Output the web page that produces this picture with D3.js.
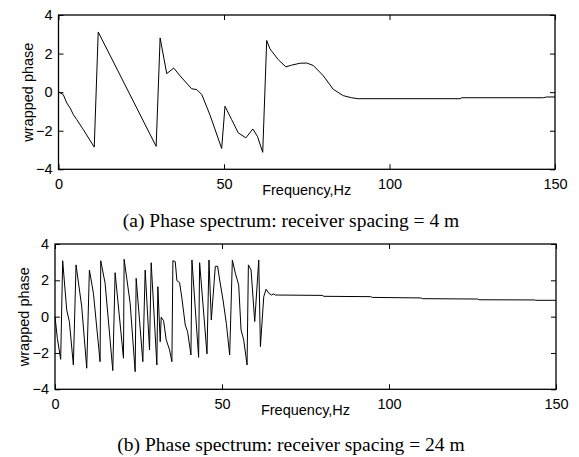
<!DOCTYPE html>
<html>
<head>
<meta charset="utf-8">
<script src="https://cdn.jsdelivr.net/npm/d3@7"></script>
<style>
  html, body { margin: 0; padding: 0; background: #fff; }
  svg { display: block; }
</style>
</head>
<body>
<svg id="chart" width="579" height="457"></svg>
<script>
// ---------- data ----------
const xTicks = [0, 50, 100, 150];
const yTicks = [-4, -2, 0, 2, 4];
const xLabel = "Frequency,Hz";
const yLabel = "wrapped phase";
const captionA = "(a) Phase spectrum: receiver spacing = 4 m";
const captionB = "(b) Phase spectrum: receiver spacing = 24 m";

// (a) receiver spacing = 4 m
const freqA  = [0, 1.45, 2.5, 3.5, 4.5, 5.5, 7.5, 10.8, 12, 29.5, 30.7, 32.7, 34.8, 36.7, 40.2, 41.8, 43.3, 45.8, 49.3, 50.3, 52.3, 54.3, 56.6, 58.7, 60.1, 61.7, 62.9, 63.9, 66.4, 68.7, 70.4, 73, 75, 77, 80, 83, 86, 88.5, 90.6, 121.3, 121.8, 146.5, 147.5, 150];
const phaseA = [0.02, -0.13, -0.56, -0.82, -1.17, -1.42, -1.94, -2.85, 3.12, -2.81, 2.81, 0.96, 1.25, 0.85, 0.18, 0.13, -0.13, -1.2, -2.92, -0.73, -1.42, -2.11, -2.37, -1.91, -2.29, -3.12, 2.68, 2.24, 1.68, 1.31, 1.40, 1.50, 1.51, 1.38, 0.85, 0.15, -0.18, -0.29, -0.34, -0.34, -0.29, -0.29, -0.25, -0.25];

// (b) receiver spacing = 24 m
const freqB  = [0, 0.7, 1.7, 2.3, 3.5, 4.3, 5.5, 6.3, 8, 9.5, 10.3, 11.5, 13.5, 13.7, 15, 17.3, 18, 20.5, 20.7, 22.5, 24, 24.3, 26.3, 27, 28.3, 28.8, 30.5, 30.8, 31.5, 31.8, 32.5, 33.3, 34.3, 35, 35.3, 36, 36.5, 37.3, 38, 39, 39.7, 40.7, 41, 43, 43.3, 45.5, 46.1, 46.8, 48, 48.7, 49.3, 50.3, 51.3, 52.3, 53.1, 54, 55, 55.7, 56.5, 57.5, 57.9, 58.7, 59.8, 61, 61.5, 62.5, 63.2, 64, 64.8, 65.5, 66, 67, 80, 80.5, 94.5, 95, 109.5, 110, 126.5, 127, 143.5, 144, 150];
const phaseB = [0, -1.19, -2.35, 3.08, 0.37, -0.27, -2.66, 2.85, 0.55, -2.84, 2.57, 1.29, -2.48, 3.08, 1.84, -2.97, 2.42, -2.29, 3.16, 0.74, -3.03, 2.11, -2.48, 2.57, -1.83, 2.97, -2.66, 1.65, -1.38, -0.03, -0.22, -1.28, -1.83, -2.48, 3.08, 3.03, 1.98, 1.87, 1.01, -0.46, -0.83, -2.11, 3.12, -2.24, 2.97, -2.05, 3.12, -0.18, 2.77, 2.77, 2.02, 0.92, -0.37, -2.11, 3.12, 2.39, 1.74, -0.73, -1.28, -2.66, 2.85, 2.57, -0.27, 3.12, -1.65, 1.1, 1.51, 1.29, 1.19, 1.25, 1.19, 1.19, 1.17, 1.12, 1.10, 1.06, 1.03, 0.99, 0.97, 0.93, 0.92, 0.90, 0.90];

// ---------- drawing ----------
const svg = d3.select("#chart");

const panels = [
  { x: freqA, y: phaseA, left: 58.5, right: 555, top: 15, bottom: 169.3, caption: captionA, capY: 226.5, labelX: 28 },
  { x: freqB, y: phaseB, left: 55, right: 556, top: 244, bottom: 389.3, caption: captionB, capY: 451, labelX: 24 }
];

const axisFont = "'Liberation Sans', Arial, Helvetica, sans-serif";
const capFont = "'Liberation Serif', 'Times New Roman', serif";
const axisSize = 14.5;

panels.forEach(p => {
  const x = d3.scaleLinear().domain([0, 150]).range([p.left, p.right]);
  const y = d3.scaleLinear().domain([-4, 4]).range([p.bottom, p.top]);
  const g = svg.append("g");

  // axes with inward ticks
  const axB = g.append("g").attr("transform", `translate(0,${p.bottom})`)
    .call(d3.axisBottom(x).tickValues(xTicks).tickSizeInner(-5).tickSizeOuter(0).tickPadding(9).tickFormat(d3.format("d")));
  const axT = g.append("g").attr("transform", `translate(0,${p.top})`)
    .call(d3.axisTop(x).tickValues(xTicks).tickSizeInner(-5).tickSizeOuter(0).tickFormat(""));
  const axL = g.append("g").attr("transform", `translate(${p.left},0)`)
    .call(d3.axisLeft(y).tickValues(yTicks).tickSizeInner(-5).tickSizeOuter(0).tickPadding(6).tickFormat(d3.format("d")));
  const axR = g.append("g").attr("transform", `translate(${p.right},0)`)
    .call(d3.axisRight(y).tickValues(yTicks).tickSizeInner(-5).tickSizeOuter(0).tickFormat(""));

  [axB, axT, axL, axR].forEach(a => {
    a.select(".domain").remove();
    a.selectAll(".tick line").attr("stroke", "#000").attr("stroke-width", 1);
    a.selectAll("text").attr("font-family", axisFont).attr("font-size", axisSize).attr("fill", "#000");
  });

  // frame
  g.append("rect")
    .attr("x", p.left).attr("y", p.top)
    .attr("width", p.right - p.left).attr("height", p.bottom - p.top)
    .attr("fill", "none").attr("stroke", "#000").attr("stroke-width", 1.3);

  // data line
  const pts = p.x.map((d, i) => [d, p.y[i]]);
  g.append("path")
    .datum(pts)
    .attr("fill", "none").attr("stroke", "#000").attr("stroke-width", 1)
    .attr("stroke-linejoin", "round")
    .attr("d", d3.line().x(d => x(d[0])).y(d => y(d[1])));

  // axis labels
  g.append("text")
    .attr("x", (p.left + p.right) / 2).attr("y", p.bottom + 26)
    .attr("text-anchor", "middle")
    .attr("font-family", axisFont).attr("font-size", axisSize)
    .text(xLabel);

  g.append("text")
    .attr("transform", `translate(${p.labelX + 5},${(p.top + p.bottom) / 2}) rotate(-90)`)
    .attr("text-anchor", "middle")
    .attr("font-family", axisFont).attr("font-size", axisSize)
    .text(yLabel);

  // caption
  g.append("text")
    .attr("x", 291).attr("y", p.capY)
    .attr("text-anchor", "middle")
    .attr("font-family", capFont).attr("font-size", 19.5)
    .text(p.caption);
});
</script>
</body>
</html>
